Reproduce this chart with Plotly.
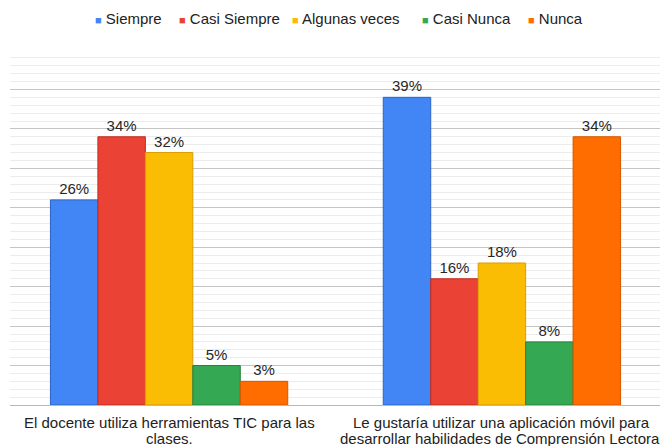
import plotly.graph_objects as go

categories = [
    "El docente utiliza herramientas TIC para las clases.",
    "Le gustaría utilizar una aplicación móvil para desarrollar habilidades de Comprensión Lectora.",
]
category_lines = [
    ["El docente utiliza herramientas TIC para las", "clases."],
    ["Le gustaría utilizar una aplicación móvil para", "desarrollar habilidades de Comprensión Lectora."],
]
series_names = ["Siempre", "Casi Siempre", "Algunas veces", "Casi Nunca", "Nunca"]
siempre = [26, 39]
casi_siempre = [34, 16]
algunas_veces = [32, 18]
casi_nunca = [5, 8]
nunca = [3, 34]
values = [siempre, casi_siempre, algunas_veces, casi_nunca, nunca]

colors = ["#4285F4", "#EA4335", "#FBBC04", "#34A853", "#FF6D01"]
edges = ["#2a62c8", "#c22a1e", "#d99d00", "#23803c", "#d45500"]

FONT = "Liberation Sans, Arial, sans-serif"
H, T, B = 446, 50, 41
PH = H - T - B  # plot height in px


def py(pix):
    """pixel row (from top) -> paper y"""
    return (H - B - pix) / PH


fig = go.Figure()
for name, vals, c, e in zip(series_names, values, colors, edges):
    fig.add_trace(go.Bar(
        name=name, x=categories, y=vals,
        marker=dict(color=c, line=dict(color=e, width=1)),
        text=[f"{v}%" for v in vals], textposition="outside",
        textfont=dict(size=15, color="#262626", family=FONT),
        cliponaxis=False, showlegend=False, hoverinfo="skip",
    ))

# legend drawn as annotations (compact Google-Sheets style)
legend_x = [93, 177, 290, 420, 526]
W = 650.0
for name, c, px in zip(series_names, colors, legend_x):
    fig.add_annotation(
        xref="paper", yref="paper", x=(px - 10) / W, y=py(19),
        xanchor="left", yanchor="middle", showarrow=False,
        text=f"<span style='color:{c};font-size:11px'>■</span> {name}",
        font=dict(size=15, color="#222222", family=FONT),
    )

# category labels (two tight lines)
for cat, lines in zip(categories, category_lines):
    for i, line in enumerate(lines):
        fig.add_annotation(
            xref="x", yref="paper", x=cat, y=py(422 + 16 * i),
            xanchor="center", yanchor="middle", showarrow=False,
            text=line, font=dict(size=15, color="#222222", family=FONT),
        )

fig.update_layout(
    width=660, height=H,
    margin=dict(l=10, r=0, t=T, b=B, autoexpand=False),
    paper_bgcolor="white", plot_bgcolor="white",
    barmode="group", bargap=0.287, bargroupgap=0,
    showlegend=False,
    font=dict(family=FONT, size=15, color="#222222"),
    xaxis=dict(
        range=[-0.478, 1.475], showgrid=False, showline=False, ticks="",
        showticklabels=False, automargin=False,
    ),
    yaxis=dict(
        range=[0, 45], dtick=5, showticklabels=False, ticks="", automargin=False,
        showgrid=True, gridcolor="#c4c4c4", gridwidth=1,
        zeroline=True, zerolinecolor="#b8b8b8", zerolinewidth=1,
        minor=dict(dtick=1, showgrid=True, gridcolor="#ececec", gridwidth=1),
    ),
)

fig.write_html(
    "out.html",
    config={"displayModeBar": False},
    post_script="document.body.style.margin='0';document.body.style.overflow='hidden';",
)
